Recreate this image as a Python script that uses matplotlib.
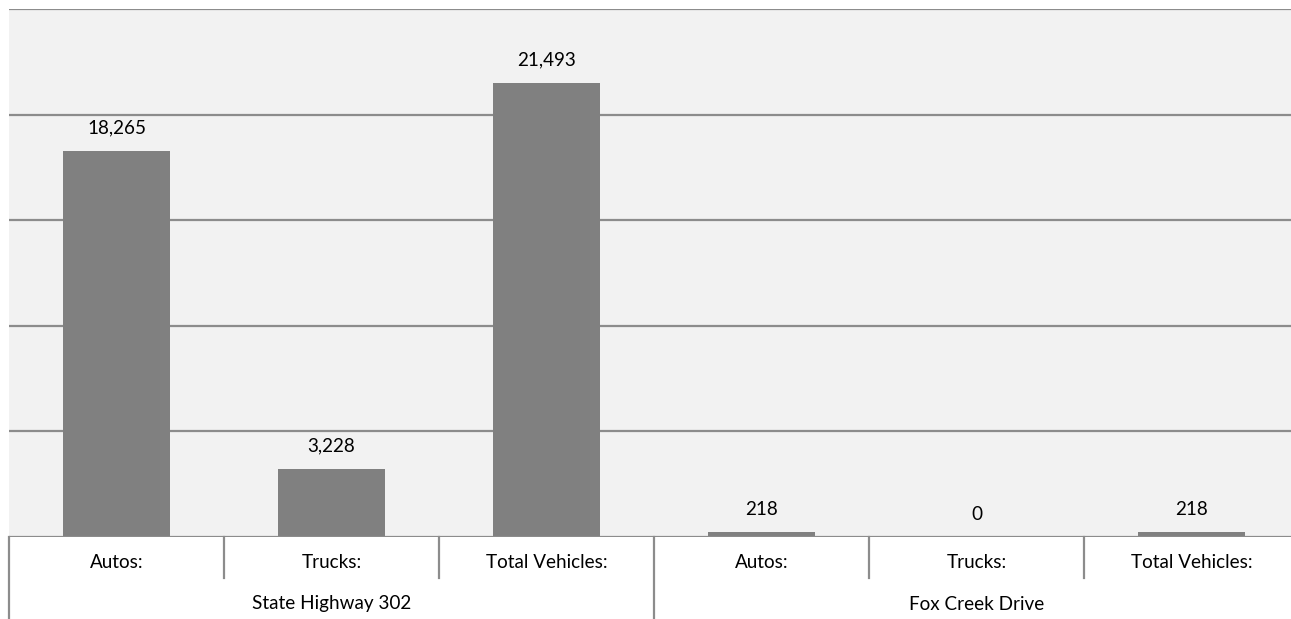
import matplotlib.pyplot as plt
import matplotlib.transforms as mtransforms

# ----------------------------
# Data
# ----------------------------
categories = ["Autos:", "Trucks:", "Total Vehicles:", "Autos:", "Trucks:", "Total Vehicles:"]
groups = ["State Highway 302", "Fox Creek Drive"]
group_size = 3
values = [18265, 3228, 21493, 218, 0, 218]
grid_vals = [5000, 10000, 15000, 20000, 25000]

plt.rcParams["font.family"] = ["Lato", "DejaVu Sans"]
fs = 13.6

W, H = 1291, 619
fig = plt.figure(figsize=(W / 100, H / 100), dpi=100)

# plot area runs a little past the right edge of the image
left, right, top, base = 9, 1299, 9, 537
ax = fig.add_axes([left / W, (H - base) / H, (right - left) / W, (base - top) / H])
ax.set_facecolor("#f2f2f2")

x = list(range(len(values)))
ax.bar(x, values, width=0.5, color="#808080", zorder=3)

for g in grid_vals:
    ax.axhline(g, color="#8c8c8c", lw=1.6, zorder=2)
ax.axhline(0, color="#8c8c8c", lw=1.6, zorder=4)

ax.set_xlim(-0.5, len(values) - 0.5)
ax.set_ylim(0, 25000)
ax.set_xticks([])
ax.set_yticks([])
for s in ax.spines.values():
    s.set_visible(False)

# value labels
for xi, v in zip(x, values):
    ax.annotate(f"{v:,}", (xi, v), xytext=(0, 16.5), textcoords="offset points",
                ha="center", va="center", fontsize=fs, color="#000000")

# category axis below the plot
trans = mtransforms.blended_transform_factory(ax.transData, ax.transAxes)
ah = base - top
short_y = -41 / ah
long_y = -85 / ah

for i, c in enumerate(categories):
    ax.text(i, -26 / ah, c, transform=trans, ha="center", va="center", fontsize=fs)

for gi, g in enumerate(groups):
    cx = gi * group_size + (group_size - 1) / 2
    ax.text(cx, -67 / ah, g, transform=trans, ha="center", va="center", fontsize=fs)

for b in range(len(values) + 1):
    xb = b - 0.5
    yb = long_y if b % group_size == 0 else short_y
    ax.plot([xb, xb], [0, yb], transform=trans, color="#8c8c8c", lw=1.6, clip_on=False)

fig.savefig("out.png", dpi=100, facecolor="white")
